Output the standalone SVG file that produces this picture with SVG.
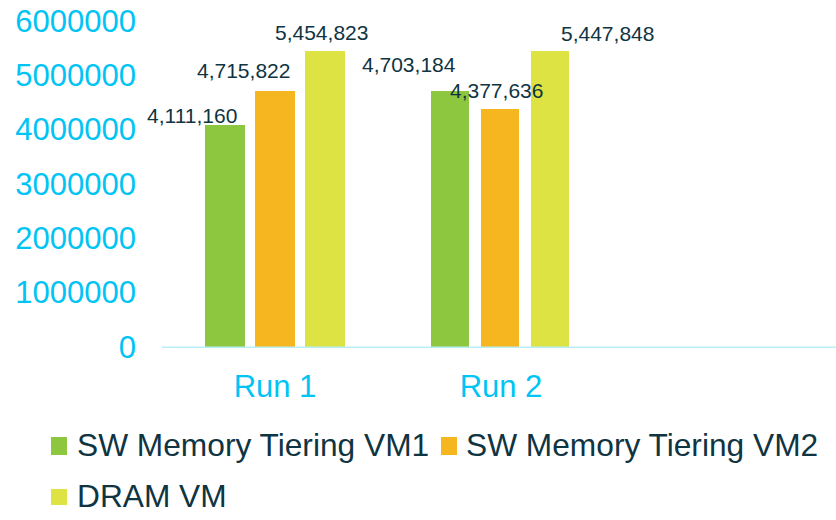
<svg xmlns="http://www.w3.org/2000/svg" width="836" height="520" viewBox="0 0 836 520">
  <style>
    text { font-family: "Liberation Sans", Arial, sans-serif; }
    .axis { font-size: 31px; fill: #00c4f4; }
    .val { font-size: 21px; fill: #0f3442; }
    .leg { font-size: 31.7px; fill: #0f3442; }
    .vm1 { fill: #8dc63f; }
    .vm2 { fill: #f5b61f; }
    .dram { fill: #dce342; }
  </style>
  <rect width="836" height="520" fill="#ffffff"/>

  <!-- value axis labels -->
  <g id="y-axis" class="axis" text-anchor="end">
    <text x="136" y="32">6000000</text>
    <text x="136" y="86">5000000</text>
    <text x="136" y="140">4000000</text>
    <text x="136" y="195">3000000</text>
    <text x="136" y="249">2000000</text>
    <text x="136" y="303">1000000</text>
    <text x="136" y="358">0</text>
  </g>

  <!-- Run 1 -->
  <g id="run1">
    <rect class="vm1" x="205" y="125" width="40" height="222"/>
    <rect class="vm2" x="255" y="91" width="40" height="256"/>
    <rect class="dram" x="305" y="51" width="40" height="296"/>
    <text class="val" x="147" y="123">4,111,160</text>
    <text class="val" x="197" y="78">4,715,822</text>
    <text class="val" x="275" y="40">5,454,823</text>
  </g>

  <!-- Run 2 -->
  <g id="run2">
    <rect class="vm1" x="431" y="91" width="38" height="256"/>
    <rect class="vm2" x="481" y="109" width="38" height="238"/>
    <rect class="dram" x="531" y="51" width="38" height="296"/>
    <text class="val" x="362" y="72">4,703,184</text>
    <text class="val" x="450" y="98">4,377,636</text>
    <text class="val" x="561" y="41">5,447,848</text>
  </g>

  <!-- category axis -->
  <g id="x-axis">
    <line x1="162" y1="347.3" x2="836" y2="347.3" stroke="#b8effa" stroke-width="1.6"/>
    <text class="axis" x="275" y="397" text-anchor="middle">Run 1</text>
    <text class="axis" x="501" y="397" text-anchor="middle">Run 2</text>
  </g>

  <!-- legend -->
  <g id="legend">
    <rect class="vm1" x="51" y="437" width="16" height="18"/>
    <text class="leg" x="77" y="456">SW Memory Tiering VM1</text>
    <rect class="vm2" x="441" y="437" width="16" height="18"/>
    <text class="leg" x="466" y="456">SW Memory Tiering VM2</text>
    <rect class="dram" x="51" y="489" width="16" height="16"/>
    <text class="leg" x="77" y="507">DRAM VM</text>
  </g>
</svg>
